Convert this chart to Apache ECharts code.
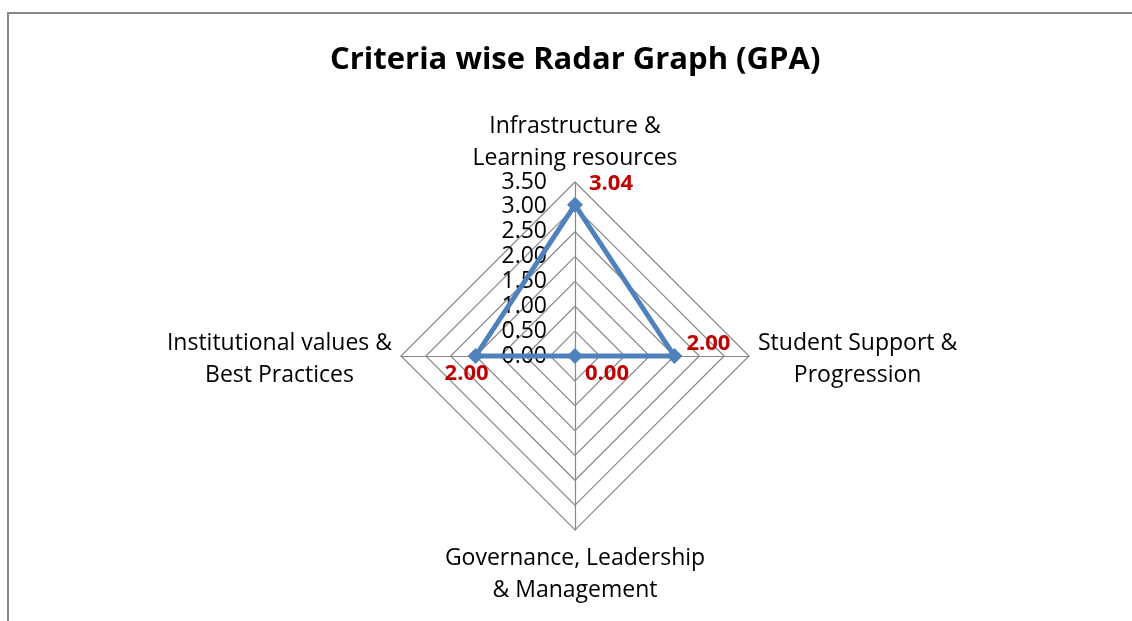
<!DOCTYPE html>
<html>
<head>
<meta charset="utf-8">
<script src="https://cdn.jsdelivr.net/npm/echarts@6/dist/echarts.min.js"></script>
<style>
  html, body { margin: 0; padding: 0; background: #fff; }
  #frame { position: absolute; left: 7px; top: 12px; width: 1125px; height: 609px;
           border-left: 2px solid #888; border-top: 2px solid #888; box-sizing: border-box; }
  #main { position: absolute; left: 0; top: 0; width: 1132px; height: 621px; }
</style>
</head>
<body>
<div id="frame"></div>
<div id="main"></div>
<script>
// 指标顺序：上、左、下、右（ECharts 从 90 度逆时针排列）
var criteria = ['Infrastructure &\nLearning resources', 'Institutional values &\nBest Practices',
                'Governance, Leadership\n& Management', 'Student Support &\nProgression'];
var gpaValues = [3.04, 2.00, 0.00, 2.00];
var axisMax = 3.5;
var axisSplits = 7;

var myChart = echarts.init(document.getElementById('main'));
var cx = 575, cy = 356;
var font = 'Open Sans';

// 每行居中；顶部名称行高稍调，让文字更贴近轴端
function centerLines(name) {
	var lines = name.split('\n');
	if (criteria.indexOf(name) == 0) {
		return '{a|' + lines[0] + '}\n{b|' + lines[1] + '}';
	}
	return lines.map(function(s) { return '{c|' + s + '}'; }).join('\n');
}

var indicators = [];
for (var i = 0; i < criteria.length; i++) {
	indicators.push({
		name: criteria[i],
		min: 0,
		max: axisMax,
		axisLabel: { show: i == 0 }
	});
}

var nameStyle = { align: 'center', fontFamily: font, fontSize: 23, lineHeight: 32, color: '#000' };

var option = {
	title: {
		text: 'Criteria wise Radar Graph (GPA)',
		left: 325,
		top: 40,
		textStyle: { fontFamily: font, fontWeight: 'bold', fontSize: 31, color: '#000' }
	},
	radar: {
		center: [cx, cy],
		radius: 174,
		shape: 'polygon',
		splitNumber: axisSplits,
		indicator: indicators,
		nameGap: 6,
		axisName: {
			color: '#000',
			fontFamily: font,
			fontSize: 23,
			lineHeight: 32,
			padding: [6, 3, 0, 3],
			formatter: function(name) { return centerLines(name); },
			rich: {
				c: nameStyle,
				a: echarts.util.extend(echarts.util.clone(nameStyle), { lineHeight: 40 }),
				b: echarts.util.extend(echarts.util.clone(nameStyle), { lineHeight: 24 })
			}
		},
		axisLine: { lineStyle: { color: '#888', width: 1.2 } },
		splitLine: { lineStyle: { color: '#888', width: 1.2 } },
		splitArea: { show: false },
		axisTick: { show: false },
		axisLabel: {
			show: false,
			fontFamily: font,
			fontSize: 23,
			color: '#000',
			margin: 28,
			formatter: function(v) { return v.toFixed(2); }
		}
	},
	series: [{
		type: 'radar',
		symbol: 'diamond',
		symbolSize: 16,
		itemStyle: { color: '#4F81BD' },
		lineStyle: { color: '#4F81BD', width: 5 },
		label: {
			show: true,
			position: 'inside',
			color: '#C00000',
			fontWeight: 'bold',
			fontFamily: font,
			fontSize: 22,
			formatter: function(p) { return Number(p.value).toFixed(2); }
		},
		labelLayout: function(p) {
			var x = p.rect.x + p.rect.width / 2;
			var y = p.rect.y + p.rect.height / 2;
			if (y < cy - 20) return { dx: 36, dy: -21 };
			if (x > cx + 20) return { dx: 34, dy: -12 };
			if (x < cx - 20) return { dx: -9, dy: 18 };
			return { dx: 32, dy: 18 };
		},
		data: [{ value: gpaValues, name: 'GPA' }]
	}]
};
myChart.setOption(option);
</script>
</body>
</html>
